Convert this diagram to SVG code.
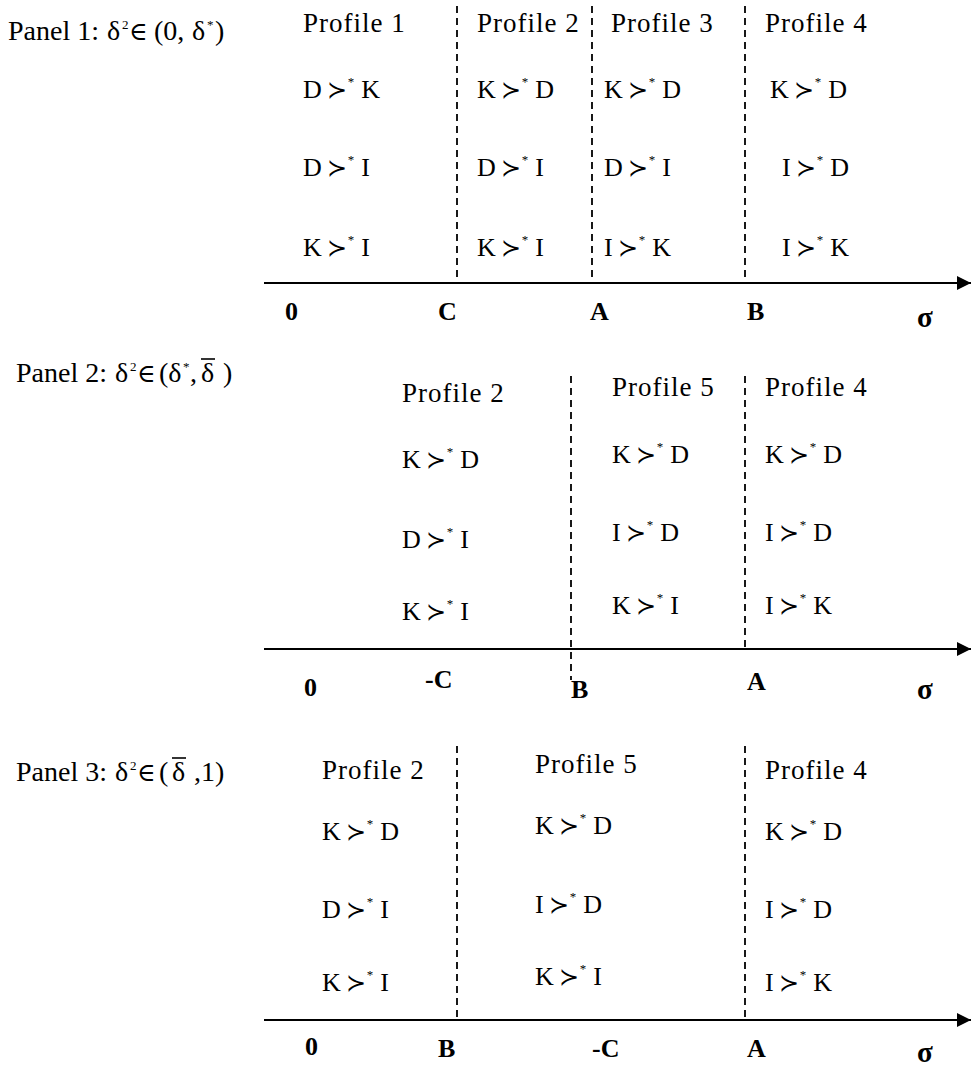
<svg xmlns="http://www.w3.org/2000/svg" width="971" height="1066" viewBox="0 0 971 1066">
<style>
text{font-family:"Liberation Serif","DejaVu Serif",serif;font-size:26px;fill:#000}
.pl{font-size:28px}
.pf{font-size:27px;letter-spacing:1px}
.sym{font-family:"DejaVu Serif",serif;font-size:24px}
.el{font-size:25px}
.st{font-size:13px}
.b{font-weight:bold;font-size:26px}
.sig{font-weight:bold;font-size:29px}
.dash{stroke:#000;stroke-width:1.8;stroke-dasharray:7,5;fill:none}
.axis{stroke:#000;stroke-width:2;fill:none}
.bar{stroke:#000;stroke-width:1.6}
</style>
<defs>
<marker id="arr" markerWidth="14" markerHeight="14" refX="14" refY="7" orient="auto" markerUnits="userSpaceOnUse">
<path d="M0,0 L14,7 L0,14 z" fill="#000"/>
</marker>
</defs>

<g id="panel1-label">
<text class="pl" x="8" y="40">Panel 1:</text>
<text class="pl" x="107" y="40">δ</text>
<text class="st" x="122" y="29">2</text>
<text class="el" x="129" y="40">∈</text>
<text class="pl" x="154" y="40">(0,</text>
<text class="pl" x="192" y="40">δ</text>
<text class="st" x="207" y="29">*</text>
<text class="pl" x="215" y="40">)</text>
</g>
<g id="panel2-label">
<text class="pl" x="16" y="382">Panel 2:</text>
<text class="pl" x="115" y="382">δ</text>
<text class="st" x="130" y="371">2</text>
<text class="el" x="137" y="382">∈</text>
<text class="pl" x="159" y="382">(δ</text>
<text class="st" x="183" y="371">*</text>
<text class="pl" x="190" y="382">,</text>
<text class="pl" x="201" y="382">δ</text>
<line class="bar" x1="201" y1="359" x2="215" y2="359"/>
<text class="pl" x="223" y="382">)</text>
</g>
<g id="panel3-label">
<text class="pl" x="16" y="781">Panel 3:</text>
<text class="pl" x="115" y="781">δ</text>
<text class="st" x="130" y="770">2</text>
<text class="el" x="137" y="781">∈</text>
<text class="pl" x="159" y="781">(</text>
<text class="pl" x="172" y="781">δ</text>
<line class="bar" x1="172" y1="758" x2="186" y2="758"/>
<text class="pl" x="194" y="781">,1)</text>
</g>

<g id="connectors">
<line class="axis" x1="264" y1="283" x2="971" y2="283" marker-end="url(#arr)"/>
<line class="axis" x1="264" y1="649" x2="971" y2="649" marker-end="url(#arr)"/>
<line class="axis" x1="264" y1="1020" x2="971" y2="1020" marker-end="url(#arr)"/>
<line class="dash" x1="457" y1="6" x2="457" y2="283"/>
<line class="dash" x1="592" y1="6" x2="592" y2="283"/>
<line class="dash" x1="745" y1="6" x2="745" y2="283"/>
<line class="dash" x1="571" y1="376" x2="571" y2="680"/>
<line class="dash" x1="745" y1="376" x2="745" y2="649"/>
<line class="dash" x1="457" y1="746" x2="457" y2="1020"/>
<line class="dash" x1="745" y1="746" x2="745" y2="1020"/>
</g>

<g id="panel1-profile1">
<text class="pf" x="303" y="32">Profile 1</text>
<text x="303" y="98">D<tspan class="sym" dx="5">≻</tspan><tspan class="st" dx="1" dy="-12">*</tspan><tspan dx="7" dy="12">K</tspan></text>
<text x="303" y="176">D<tspan class="sym" dx="5">≻</tspan><tspan class="st" dx="1" dy="-12">*</tspan><tspan dx="7" dy="12">I</tspan></text>
<text x="303" y="256">K<tspan class="sym" dx="5">≻</tspan><tspan class="st" dx="1" dy="-12">*</tspan><tspan dx="7" dy="12">I</tspan></text>
</g>
<g id="panel1-profile2">
<text class="pf" x="477" y="32">Profile 2</text>
<text x="477" y="98">K<tspan class="sym" dx="5">≻</tspan><tspan class="st" dx="1" dy="-12">*</tspan><tspan dx="7" dy="12">D</tspan></text>
<text x="477" y="176">D<tspan class="sym" dx="5">≻</tspan><tspan class="st" dx="1" dy="-12">*</tspan><tspan dx="7" dy="12">I</tspan></text>
<text x="477" y="256">K<tspan class="sym" dx="5">≻</tspan><tspan class="st" dx="1" dy="-12">*</tspan><tspan dx="7" dy="12">I</tspan></text>
</g>
<g id="panel1-profile3">
<text class="pf" x="611" y="32">Profile 3</text>
<text x="604" y="98">K<tspan class="sym" dx="5">≻</tspan><tspan class="st" dx="1" dy="-12">*</tspan><tspan dx="7" dy="12">D</tspan></text>
<text x="604" y="176">D<tspan class="sym" dx="5">≻</tspan><tspan class="st" dx="1" dy="-12">*</tspan><tspan dx="7" dy="12">I</tspan></text>
<text x="604" y="256">I<tspan class="sym" dx="5">≻</tspan><tspan class="st" dx="1" dy="-12">*</tspan><tspan dx="7" dy="12">K</tspan></text>
</g>
<g id="panel1-profile4">
<text class="pf" x="765" y="32">Profile 4</text>
<text x="770" y="98">K<tspan class="sym" dx="5">≻</tspan><tspan class="st" dx="1" dy="-12">*</tspan><tspan dx="7" dy="12">D</tspan></text>
<text x="782" y="176">I<tspan class="sym" dx="5">≻</tspan><tspan class="st" dx="1" dy="-12">*</tspan><tspan dx="7" dy="12">D</tspan></text>
<text x="782" y="256">I<tspan class="sym" dx="5">≻</tspan><tspan class="st" dx="1" dy="-12">*</tspan><tspan dx="7" dy="12">K</tspan></text>
</g>
<g id="panel1-axis-labels">
<text class="b" x="285" y="320">0</text>
<text class="b" x="438" y="320">C</text>
<text class="b" x="590" y="320">A</text>
<text class="b" x="747" y="320">B</text>
<text class="sig" x="917" y="327">σ</text>
</g>

<g id="panel2-profile2">
<text class="pf" x="402" y="402">Profile 2</text>
<text x="402" y="468">K<tspan class="sym" dx="5">≻</tspan><tspan class="st" dx="1" dy="-12">*</tspan><tspan dx="7" dy="12">D</tspan></text>
<text x="402" y="548">D<tspan class="sym" dx="5">≻</tspan><tspan class="st" dx="1" dy="-12">*</tspan><tspan dx="7" dy="12">I</tspan></text>
<text x="402" y="620">K<tspan class="sym" dx="5">≻</tspan><tspan class="st" dx="1" dy="-12">*</tspan><tspan dx="7" dy="12">I</tspan></text>
</g>
<g id="panel2-profile5">
<text class="pf" x="612" y="396">Profile 5</text>
<text x="612" y="463">K<tspan class="sym" dx="5">≻</tspan><tspan class="st" dx="1" dy="-12">*</tspan><tspan dx="7" dy="12">D</tspan></text>
<text x="612" y="541">I<tspan class="sym" dx="5">≻</tspan><tspan class="st" dx="1" dy="-12">*</tspan><tspan dx="7" dy="12">D</tspan></text>
<text x="612" y="614">K<tspan class="sym" dx="5">≻</tspan><tspan class="st" dx="1" dy="-12">*</tspan><tspan dx="7" dy="12">I</tspan></text>
</g>
<g id="panel2-profile4">
<text class="pf" x="765" y="396">Profile 4</text>
<text x="765" y="463">K<tspan class="sym" dx="5">≻</tspan><tspan class="st" dx="1" dy="-12">*</tspan><tspan dx="7" dy="12">D</tspan></text>
<text x="765" y="541">I<tspan class="sym" dx="5">≻</tspan><tspan class="st" dx="1" dy="-12">*</tspan><tspan dx="7" dy="12">D</tspan></text>
<text x="765" y="614">I<tspan class="sym" dx="5">≻</tspan><tspan class="st" dx="1" dy="-12">*</tspan><tspan dx="7" dy="12">K</tspan></text>
</g>
<g id="panel2-axis-labels">
<text class="b" x="304" y="696">0</text>
<text class="b" x="425" y="688">-C</text>
<text class="b" x="571" y="698">B</text>
<text class="b" x="747" y="690">A</text>
<text class="sig" x="917" y="699">σ</text>
</g>

<g id="panel3-profile2">
<text class="pf" x="322" y="779">Profile 2</text>
<text x="322" y="840">K<tspan class="sym" dx="5">≻</tspan><tspan class="st" dx="1" dy="-12">*</tspan><tspan dx="7" dy="12">D</tspan></text>
<text x="322" y="918">D<tspan class="sym" dx="5">≻</tspan><tspan class="st" dx="1" dy="-12">*</tspan><tspan dx="7" dy="12">I</tspan></text>
<text x="322" y="991">K<tspan class="sym" dx="5">≻</tspan><tspan class="st" dx="1" dy="-12">*</tspan><tspan dx="7" dy="12">I</tspan></text>
</g>
<g id="panel3-profile5">
<text class="pf" x="535" y="773">Profile 5</text>
<text x="535" y="834">K<tspan class="sym" dx="5">≻</tspan><tspan class="st" dx="1" dy="-12">*</tspan><tspan dx="7" dy="12">D</tspan></text>
<text x="535" y="913">I<tspan class="sym" dx="5">≻</tspan><tspan class="st" dx="1" dy="-12">*</tspan><tspan dx="7" dy="12">D</tspan></text>
<text x="535" y="985">K<tspan class="sym" dx="5">≻</tspan><tspan class="st" dx="1" dy="-12">*</tspan><tspan dx="7" dy="12">I</tspan></text>
</g>
<g id="panel3-profile4">
<text class="pf" x="765" y="779">Profile 4</text>
<text x="765" y="840">K<tspan class="sym" dx="5">≻</tspan><tspan class="st" dx="1" dy="-12">*</tspan><tspan dx="7" dy="12">D</tspan></text>
<text x="765" y="918">I<tspan class="sym" dx="5">≻</tspan><tspan class="st" dx="1" dy="-12">*</tspan><tspan dx="7" dy="12">D</tspan></text>
<text x="765" y="991">I<tspan class="sym" dx="5">≻</tspan><tspan class="st" dx="1" dy="-12">*</tspan><tspan dx="7" dy="12">K</tspan></text>
</g>
<g id="panel3-axis-labels">
<text class="b" x="305" y="1055">0</text>
<text class="b" x="438" y="1057">B</text>
<text class="b" x="592" y="1057">-C</text>
<text class="b" x="747" y="1057">A</text>
<text class="sig" x="917" y="1062">σ</text>
</g>
</svg>
